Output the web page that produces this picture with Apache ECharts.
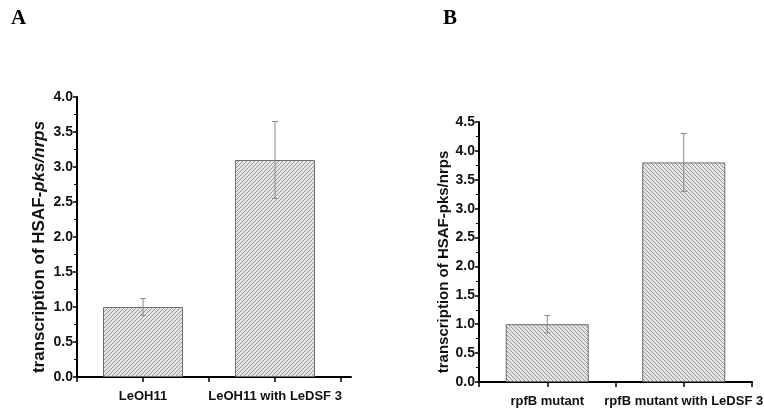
<!DOCTYPE html>
<html>
<head>
<meta charset="utf-8">
<script src="https://cdn.jsdelivr.net/npm/echarts@6/dist/echarts.min.js"></script>
<style>
  html, body { margin: 0; padding: 0; background: #fff; }
  #chart { width: 764px; height: 413px; }
</style>
</head>
<body>
<div id="chart"></div>
<script>
// panel A
const categoriesA = ['LeOH11', 'LeOH11 with LeDSF 3'];
const valuesA = [1.0, 3.1];
const errorsA = [0.12, 0.55];
const yTicksA = [0, 0.5, 1, 1.5, 2, 2.5, 3, 3.5, 4];

// panel B
const categoriesB = ['rpfB mutant', 'rpfB mutant with LeDSF 3'];
const valuesB = [1.0, 3.8];
const errorsB = [0.15, 0.5];
const yTicksB = [0, 0.5, 1, 1.5, 2, 2.5, 3, 3.5, 4, 4.5];

// bar positions on the x value axis (category centres at 1 and 3)
const slots = [1, 3];

const labelFont = "'Liberation Sans Narrow', 'Liberation Sans', Arial, sans-serif";

function hatch(forward) {
  const c = document.createElement('canvas');
  c.width = 4; c.height = 4;
  const ctx = c.getContext('2d');
  ctx.fillStyle = '#e4e4e4';
  ctx.fillRect(0, 0, 4, 4);
  ctx.fillStyle = '#9a9a9a';
  for (let i = 0; i < 4; i++) {
    ctx.fillRect(forward ? 3 - i : i, i, 1, 1);
  }
  return c;
}

const myChart = echarts.init(document.getElementById('chart'));

function xAxis(idx, max, cats) {
  return {
    type: 'value',
    gridIndex: idx,
    min: 0,
    max: max,
    axisLine: { show: true, lineStyle: { color: '#000', width: 2 } },
    axisTick: { show: true, length: 5, customValues: [0, 1, 2, 3, 4], lineStyle: { color: '#000', width: 1.5 } },
    axisLabel: {
      customValues: slots,
      hideOverlap: false,
      margin: 13,
      color: '#111',
      fontFamily: labelFont,
      fontWeight: 'bold',
      fontSize: 13,
      formatter: v => cats[slots.indexOf(v)] || ''
    },
    splitLine: { show: false }
  };
}

function yAxis(idx, max, ticks, name, nameGap, size) {
  const base = { fontFamily: "'Liberation Sans', Arial, sans-serif", fontWeight: 'bold', fontSize: size, color: '#111' };
  return {
    type: 'value',
    gridIndex: idx,
    min: 0,
    max: max,
    interval: 0.5,
    axisLine: { show: true, lineStyle: { color: '#000', width: 2 } },
    axisTick: { show: true, length: 4, lineStyle: { color: '#000', width: 1.5 } },
    minorTick: { show: true, splitNumber: 2, length: 3, lineStyle: { color: '#000', width: 1 } },
    axisLabel: {
      margin: 4,
      color: '#111',
      fontFamily: labelFont,
      fontWeight: 'bold',
      fontSize: 14,
      formatter: v => ticks.indexOf(v) >= 0 ? v.toFixed(1) : ''
    },
    splitLine: { show: false },
    name: name,
    nameLocation: 'middle',
    nameGap: nameGap,
    nameTextStyle: Object.assign({}, base, {
      padding: [0, 20, 0, 0],
      rich: {
        n: base,
        i: Object.assign({}, base, { fontStyle: 'italic' })
      }
    })
  };
}

function barSeries(idx, values, forward, width) {
  return {
    type: 'bar',
    xAxisIndex: idx,
    yAxisIndex: idx,
    barWidth: width,
    data: values.map((v, i) => [slots[i], v]),
    itemStyle: {
      color: { image: hatch(forward), repeat: 'repeat' },
      borderColor: '#6a6a6a',
      borderWidth: 1
    },
    silent: true
  };
}

function errorSeries(idx, values, errors) {
  return {
    type: 'custom',
    xAxisIndex: idx,
    yAxisIndex: idx,
    data: values.map((v, i) => [slots[i], v - errors[i], v + errors[i]]),
    renderItem: function (params, api) {
      const x = api.value(0);
      const lo = api.coord([x, api.value(1)]);
      const hi = api.coord([x, api.value(2)]);
      const style = { stroke: '#8a8a8a', lineWidth: 1 };
      const cap = 3;
      return {
        type: 'group',
        children: [
          { type: 'line', shape: { x1: hi[0], y1: hi[1], x2: lo[0], y2: lo[1] }, style: style },
          { type: 'line', shape: { x1: hi[0] - cap, y1: hi[1], x2: hi[0] + cap, y2: hi[1] }, style: style },
          { type: 'line', shape: { x1: lo[0] - cap, y1: lo[1], x2: lo[0] + cap, y2: lo[1] }, style: style }
        ]
      };
    },
    z: 10,
    silent: true
  };
}

const option = {
  backgroundColor: '#fff',
  animation: false,
  title: [
    { text: 'A', left: 6, top: 3, textStyle: { fontFamily: "'Liberation Serif', serif", fontWeight: 'bold', fontSize: 21, color: '#000' } },
    { text: 'B', left: 438, top: 3, textStyle: { fontFamily: "'Liberation Serif', serif", fontWeight: 'bold', fontSize: 21, color: '#000' } }
  ],
  grid: [
    { left: 77, top: 97, width: 274, height: 280, containLabel: false, outerBoundsMode: 'none' },
    { left: 479, top: 122, width: 273, height: 260, containLabel: false, outerBoundsMode: 'none' }
  ],
  xAxis: [
    xAxis(0, 4.15, categoriesA),
    xAxis(1, 4, categoriesB)
  ],
  yAxis: [
    yAxis(0, 4, yTicksA, '{n|transcription of HSAF-}{i|pks/nrps}', 29, 17),
    yAxis(1, 4.5, yTicksB, 'transcription of HSAF-pks/nrps', 28, 15)
  ],
  series: [
    barSeries(0, valuesA, true, 80),
    errorSeries(0, valuesA, errorsA),
    barSeries(1, valuesB, false, 83),
    errorSeries(1, valuesB, errorsB)
  ]
};

myChart.setOption(option);
</script>
</body>
</html>
